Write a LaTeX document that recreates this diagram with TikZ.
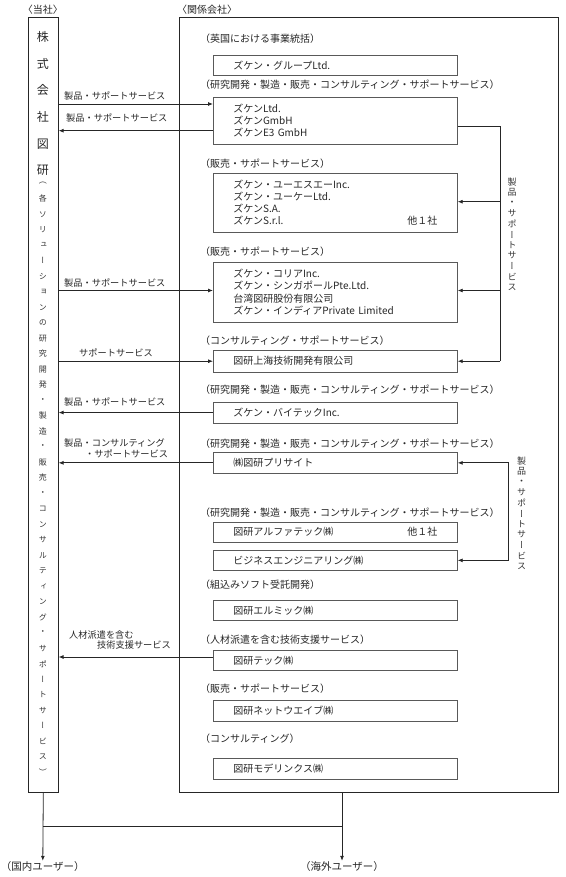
\documentclass[tikz,border=0pt]{standalone}
\usepackage{fontspec}
\setmainfont{Noto Sans CJK JP}
\newfontfamily\vjp[RawFeature=+vert]{Noto Sans CJK JP}
\usetikzlibrary{arrows.meta}
\begin{document}
\begin{tikzpicture}[x=1pt,y=-1pt,
  frame/.style={draw=black!85, line width=1.1pt, inner sep=0pt, anchor=north west},
  cobox/.style={draw=black!65, line width=0.7pt, anchor=north west, minimum width=244pt,
    text width=204pt, inner xsep=20pt, inner ysep=0pt, align=left, text=black!85,
    font=\fontsize{10}{12}\selectfont},
  cat/.style={anchor=west, inner sep=0pt, text=black!85, font=\fontsize{10}{12}\selectfont},
  flow/.style={anchor=west, inner sep=0pt, text=black!85, font=\fontsize{9.2}{11}\selectfont},
  conn/.style={draw=black!85, line width=0.8pt},
  tip/.tip={Latex[length=5pt,width=4pt]},
  arr/.style={conn, -tip},
  bigv/.style={inner sep=0pt, text=black!85, font=\vjp\fontsize{12}{12}\selectfont},
  smallv/.style={inner sep=0pt, text=black!80, font=\vjp\fontsize{8}{8}\selectfont},
  sidev/.style={inner sep=0pt, text=black!80, font=\vjp\fontsize{9}{9}\selectfont},
  user/.style={inner sep=0pt, text=black!85, font=\fontsize{10.5}{12}\selectfont},
  head/.style={inner sep=0pt, text=black!85, font=\fontsize{10}{12}\selectfont}]
\useasboundingbox (0,0) rectangle (565,877);

% headings
\node[head] (h1) at (42.8,10) {〈当社〉};
\node[head, anchor=west] (h2) at (177,10) {〈関係会社〉};

% frames
\node[frame, minimum width=29.5pt, minimum height=775pt] (tosha) at (28,17) {};
\node[frame, minimum width=379pt, minimum height=775pt] (kankei) at (179,17) {};

% left vertical text
\foreach \c [count=\i] in {株,式,会,社,図,研}
  \node[bigv] (L\i) at (42.8,{36.7+26.8*(\i-1)}) {\c};
\foreach \c [count=\i] in {（,各,ソ,リ,ュ,ー,シ,ョ,ン,の,研,究,開,発,・,製,造,・,販,売,・,コ,ン,サ,ル,テ,ィ,ン,グ,・,サ,ポ,ー,ト,サ,ー,ビ,ス,）}
  \node[smallv] (S\i) at (42.8,{183.3+15.5*(\i-1)}) {\c};

% categories
\node[cat] (c1) at (200,39) {（英国における事業統括）};
\node[cat] (c2) at (200,85) {（研究開発・製造・販売・コンサルティング・サポートサービス）};
\node[cat] (c3) at (200,164) {（販売・サポートサービス）};
\node[cat] (c4) at (200,251.7) {（販売・サポートサービス）};
\node[cat] (c5) at (200,341) {（コンサルティング・サポートサービス）};
\node[cat] (c6) at (200,390) {（研究開発・製造・販売・コンサルティング・サポートサービス）};
\node[cat] (c7) at (200,443.3) {（研究開発・製造・販売・コンサルティング・サポートサービス）};
\node[cat] (c8) at (200,512.7) {（研究開発・製造・販売・コンサルティング・サポートサービス）};
\node[cat] (c9) at (200,585) {（組込みソフト受託開発）};
\node[cat] (c10) at (200,640) {（人材派遣を含む技術支援サービス）};
\node[cat] (c11) at (200,689) {（販売・サポートサービス）};
\node[cat] (c12) at (200,739) {（コンサルティング）};

% company boxes
\node[cobox, minimum height=20.5pt] (b1) at (213,55) {ズケン・グループLtd.};
\node[cobox, minimum height=47pt] (b2) at (213,97) {ズケンLtd.\\ズケンGmbH\\ズケンE3 GmbH};
\node[cobox, minimum height=59pt] (b3) at (213,173) {ズケン・ユーエスエーInc.\\ズケン・ユーケーLtd.\\ズケンS.A.\\ズケンS.r.l.\hfill 他１社};
\node[cobox, minimum height=60pt, font=\fontsize{10}{12.3}\selectfont] (b4) at (213,261.7) {ズケン・コリアInc.\\ズケン・シンガポールPte.Ltd.\\台湾図研股份有限公司\\ズケン・インディアPrivate Limited};
\node[cobox, minimum height=21.7pt] (b5) at (213,350) {図研上海技術開発有限公司};
\node[cobox, minimum height=21pt] (b6) at (213,401.7) {ズケン・バイテックInc.};
\node[cobox, minimum height=21pt] (b7) at (213,452) {㈱図研プリサイト};
\node[cobox, minimum height=20pt] (b8) at (213,521.7) {図研アルファテック㈱\hfill 他１社};
\node[cobox, minimum height=20pt] (b9) at (213,550) {ビジネスエンジニアリング㈱};
\node[cobox, minimum height=20pt] (b10) at (213,600) {図研エルミック㈱};
\node[cobox, minimum height=20pt] (b11) at (213,650) {図研テック㈱};
\node[cobox, minimum height=20.7pt] (b12) at (213,700) {図研ネットウエイブ㈱};
\node[cobox, minimum height=21pt] (b13) at (213,758) {図研モデリンクス㈱};

% flow labels
\node[flow] (f1) at (64,96) {製品・サポートサービス};
\node[flow] (f2) at (66,118) {製品・サポートサービス};
\node[flow] (f3) at (64,283) {製品・サポートサービス};
\node[flow] (f4) at (79,352.7) {サポートサービス};
\node[flow] (f5) at (64,401.7) {製品・サポートサービス};
\node[flow] (f6a) at (64,443) {製品・コンサルティング};
\node[flow] (f6b) at (85,454) {・サポートサービス};
\node[flow] (f7a) at (69,635) {人材派遣を含む};
\node[flow] (f7b) at (97,645) {技術支援サービス};

% row coordinates
\coordinate (r1) at (0,104);
\coordinate (r2) at (0,130.7);
\coordinate (rj) at (0,126);
\coordinate (r3) at (0,201.7);
\coordinate (r4) at (0,290.5);
\coordinate (r11) at (0,657);
\coordinate (rb) at (0,826);
\coordinate (j1) at (500,126);

% left-side connectors
\draw[arr] (tosha.east |- r1) -- (b2.west |- r1);
\draw[arr] (b2.west |- r2) -- (tosha.east |- r2);
\draw[arr] (tosha.east |- r4) -- (b4.west |- r4);
\draw[arr] (tosha.east |- b5.west) -- (b5.west);
\draw[arr] (b6.west) -- (tosha.east |- b6.west);
\draw[arr] (b7.west) -- (tosha.east |- b7.west);
\draw[arr] (b11.west |- r11) -- (tosha.east |- r11);

% right-side connectors
\draw[conn] (b2.east |- rj) -- (j1) -- (j1 |- b5.east);
\draw[arr] (j1 |- r3) -- (b3.east |- r3);
\draw[arr] (j1 |- r4) -- (b4.east |- r4);
\draw[arr] (j1 |- b5.east) -- (b5.east);
\draw[conn, tip-tip] (b7.east) -- ++(51,0) |- (b9.east);

% side vertical labels
\foreach \c [count=\i] in {製,品,・,サ,ポ,ー,ト,サ,ー,ビ,ス}
  \node[sidev] (P\i) at (512,{182+10.5*(\i-1)}) {\c};
\foreach \c [count=\i] in {製,品,・,サ,ポ,ー,ト,サ,ー,ビ,ス}
  \node[sidev] (Q\i) at (521.7,{461+10.5*(\i-1)}) {\c};

% users
\node[user] (dom) at (42.8,866) {（国内ユーザー）};
\node[user] (ovs) at (342,866) {（海外ユーザー）};
\draw[arr] (tosha.south) -- (dom.north);
\draw[arr] (ovs.north |- kankei.south) -- (ovs.north);
\draw[conn] (tosha.south |- rb) -- (ovs.north |- rb);
\end{tikzpicture}
\end{document}
